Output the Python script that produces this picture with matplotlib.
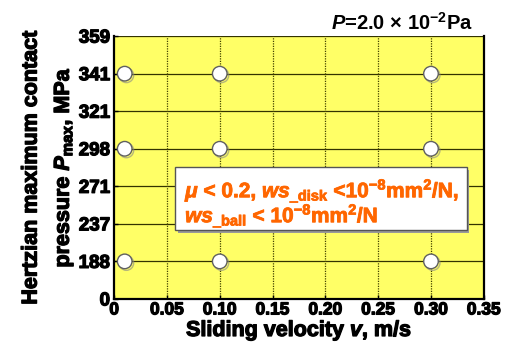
import matplotlib
matplotlib.use("Agg")
import matplotlib.pyplot as plt
import matplotlib.patheffects as pe
from matplotlib.patches import Rectangle

plt.rcParams['font.family'] = ['Liberation Sans', 'DejaVu Sans']
plt.rcParams['font.weight'] = 'bold'
plt.rcParams['mathtext.fontset'] = 'custom'
plt.rcParams['mathtext.rm'] = 'Liberation Sans:bold'
plt.rcParams['mathtext.it'] = 'Liberation Sans:bold:italic'
plt.rcParams['mathtext.bf'] = 'Liberation Sans:bold'

# data
x_ticks = [0, 0.05, 0.10, 0.15, 0.20, 0.25, 0.30, 0.35]
x_ticklabels = ['0', '0.05', '0.10', '0.15', '0.20', '0.25', '0.30', '0.35']
pressure_ticklabels = ['0', '188', '237', '271', '298', '321', '341', '359']
velocity = [0.01, 0.10, 0.30, 0.01, 0.10, 0.30, 0.01, 0.10, 0.30]
pressure = ['188', '188', '188', '298', '298', '298', '341', '341', '341']


def heavy(color='black', w=0.9):
    return [pe.withStroke(linewidth=w, foreground=color)]


fig = plt.figure(figsize=(5.05, 3.44), dpi=100)
ax = fig.add_axes([0.226, 0.131, 0.732, 0.764])
ax.set_facecolor('#FFFF66')

ax.set_xlim(0, 0.35)
ax.set_ylim(0, len(pressure_ticklabels) - 1)
ax.set_xticks(x_ticks)
ax.set_xticklabels(x_ticklabels)
ax.set_yticks(range(len(pressure_ticklabels)))
ax.set_yticklabels(pressure_ticklabels)
ax.tick_params(axis='both', direction='in', length=3, width=1)
ax.tick_params(axis='y', pad=3, labelsize=13.5)
ax.tick_params(axis='x', pad=2.5, labelsize=12.5)
for lab in ax.get_xticklabels() + ax.get_yticklabels():
    lab.set_fontweight('bold')
    lab.set_path_effects(heavy())

for y in range(1, len(pressure_ticklabels)):
    ax.axhline(y, color='#333300', lw=0.9, zorder=1)
for xv in x_ticks[1:]:
    ax.axvline(xv, color='#444400', lw=0.9, ls=(0, (1.0, 1.0)), zorder=1)

for s in ['left', 'bottom', 'right']:
    ax.spines[s].set_color('black')
    ax.spines[s].set_linewidth(1.6)
ax.spines['top'].set_visible(False)

ypos = [pressure_ticklabels.index(p) for p in pressure]
ax.plot(velocity, ypos, ls='none', marker='o', ms=10.5, mfc='white', mec='#606060',
        mew=1.0, zorder=5, clip_on=False,
        path_effects=[pe.SimpleLineShadow(offset=(1.2, -1.2), shadow_color='#888888', alpha=0.6), pe.Normal()])

xl = ax.set_xlabel(r'Sliding velocity $v$, m/s', fontsize=15.5, fontweight='bold', labelpad=0.5)
xl.set_path_effects(heavy())
yl = ax.set_ylabel('Hertzian maximum contact\n' + r'pressure $P_{\mathrm{max}}$, MPa', fontsize=15.5,
                   fontweight='bold', labelpad=2, linespacing=1.6)
yl.set_path_effects(heavy())

fig.text(0.937, 0.935, r'$P$=2.0 $\times$ 10$^{-2}$Pa', fontsize=14.5, ha='right', va='center')

# annotation box
ax.add_patch(Rectangle((0.172, 0.250), 0.789, 0.240, transform=ax.transAxes,
                       facecolor='#999999', edgecolor='none', zorder=6))
ax.add_patch(Rectangle((0.165, 0.262), 0.789, 0.240, transform=ax.transAxes,
                       facecolor='white', edgecolor='#555555', lw=1.0, zorder=7))
orange = '#FF6600'
ax.text(0.192, 0.410, r'$\mu$ < 0.2, $ws_{\mathrm{\_disk}}$ <10$^{-8}$mm$^{2}$/N,', transform=ax.transAxes,
        color=orange, fontsize=15, fontweight='bold', va='center', ha='left', zorder=8,
        path_effects=heavy(orange, 0.6))
ax.text(0.192, 0.315, r'$ws_{\mathrm{\_ball}}$ < 10$^{-8}$mm$^{2}$/N', transform=ax.transAxes,
        color=orange, fontsize=15, fontweight='bold', va='center', ha='left', zorder=8,
        path_effects=heavy(orange, 0.6))

fig.savefig('out.png', dpi=100)
